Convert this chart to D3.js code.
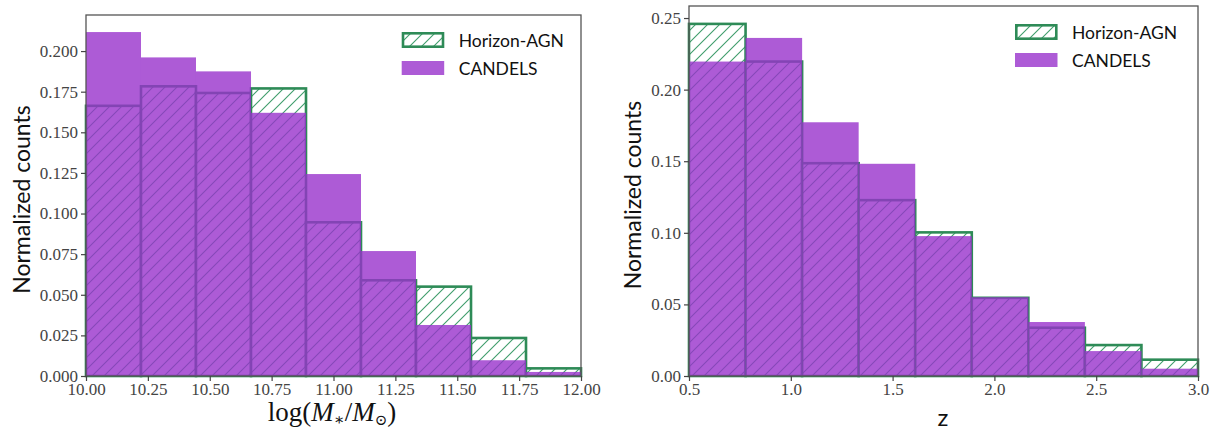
<!DOCTYPE html>
<html><head><meta charset="utf-8">
<script src="https://cdn.jsdelivr.net/npm/d3@7"></script>
<style>
html,body{margin:0;padding:0;background:#fff;}
svg{display:block;}
.tick text{font-family:"Liberation Serif","DejaVu Serif",serif;fill:#444;}
</style></head>
<body>
<svg id="c" width="1222" height="432"></svg>
<script>
// ---- data ----
const massEdges = [10.0, 10.2222, 10.4444, 10.6667, 10.8889, 11.1111, 11.3333, 11.5556, 11.7778, 12.0];
const massHorizon = [0.1663, 0.1783, 0.1742, 0.1770, 0.0946, 0.0589, 0.0550, 0.0234, 0.0047];
const massCandels = [0.2117, 0.1961, 0.1875, 0.1620, 0.1243, 0.0769, 0.0314, 0.0097, 0.0025];
const massXTicks = [10.00, 10.25, 10.50, 10.75, 11.00, 11.25, 11.50, 11.75, 12.00];
const massYTicks = [0.000, 0.025, 0.050, 0.075, 0.100, 0.125, 0.150, 0.175, 0.200];

const zEdges = [0.5, 0.7778, 1.0556, 1.3333, 1.6111, 1.8889, 2.1667, 2.4444, 2.7222, 3.0];
const zHorizon = [0.2459, 0.2196, 0.1486, 0.1228, 0.1003, 0.0546, 0.0337, 0.0216, 0.0114];
const zCandels = [0.2196, 0.2361, 0.1772, 0.1482, 0.0977, 0.0550, 0.0377, 0.0174, 0.0051];
const zXTicks = [0.5, 1.0, 1.5, 2.0, 2.5, 3.0];
const zYTicks = [0.00, 0.05, 0.10, 0.15, 0.20, 0.25];

const seriesNames = ["Horizon-AGN", "CANDELS"];

const GREEN = "#2e8b57", PURPLE = "#9932cc", HATCH = "#3f9e6c";
const svg = d3.select("#c");

const defs = svg.append("defs");
const pat = defs.append("pattern").attr("id","hatch").attr("patternUnits","userSpaceOnUse")
  .attr("width",12).attr("height",12);
pat.append("rect").attr("width",12).attr("height",12).attr("fill","#fff");
pat.append("path").attr("d","M-1,13 L13,-1 M-6,6 L6,-6 M6,18 L18,6")
  .attr("stroke",HATCH).attr("stroke-width",1.1).attr("fill","none");

function panel(o){
  const g = svg.append("g");
  const x = d3.scaleLinear().domain(o.xDomain).range([o.left, o.right]);
  const y = d3.scaleLinear().domain(o.yDomain).range([o.bottom, o.top]);
  const bins = o.edges.slice(0,-1).map((e,i)=>({x0:e,x1:o.edges[i+1],h:o.hor[i],c:o.can[i]}));
  // Horizon-AGN hatched bars
  g.append("g").selectAll("rect").data(bins).join("rect")
    .attr("x",d=>x(d.x0)).attr("width",d=>x(d.x1)-x(d.x0))
    .attr("y",d=>y(d.h)).attr("height",d=>y(0)-y(d.h))
    .attr("fill","url(#hatch)").attr("stroke",GREEN).attr("stroke-width",2.6);
  // CANDELS bars
  g.append("g").selectAll("rect").data(bins).join("rect")
    .attr("x",d=>x(d.x0)).attr("width",d=>x(d.x1)-x(d.x0))
    .attr("y",d=>y(d.c)).attr("height",d=>y(0)-y(d.c))
    .attr("fill",PURPLE).attr("fill-opacity",0.8);
  // frame
  g.append("rect").attr("x",o.left).attr("y",o.top).attr("width",o.right-o.left).attr("height",o.bottom-o.top)
    .attr("fill","none").attr("stroke","#555").attr("stroke-width",1.3);
  // axes
  const xa = g.append("g").attr("transform",`translate(0,${o.bottom})`)
    .call(d3.axisBottom(x).tickValues(o.xTicks).tickFormat(d=>d.toFixed(o.xDec)).tickSize(5).tickPadding(2));
  const ya = g.append("g").attr("transform",`translate(${o.left},0)`)
    .call(d3.axisLeft(y).tickValues(o.yTicks).tickFormat(d=>d.toFixed(o.yDec)).tickSize(5).tickPadding(3));
  [xa,ya].forEach(a=>{a.select(".domain").remove(); a.selectAll(".tick line").attr("stroke","#444").attr("stroke-width",1.2);
    a.selectAll(".tick text").attr("font-size",17).attr("fill","#555");});
  // y label
  g.append("text").attr("transform",`translate(${o.ylabX},${(o.top+o.bottom)/2+4}) rotate(-90)`)
    .attr("text-anchor","middle").attr("dominant-baseline","central")
    .attr("font-family","Lato, 'Open Sans', sans-serif").attr("font-size",23).attr("fill","#111")
    .text("Normalized counts");
  // legend
  const lg = g.append("g");
  seriesNames.forEach((n,i)=>{
    const yy = o.legY + i*28;
    if(i===0){
      lg.append("rect").attr("x",o.legX+1.3).attr("y",yy-6.7).attr("width",40).attr("height",13.4)
        .attr("fill","url(#hatch)").attr("stroke",GREEN).attr("stroke-width",2.6);
    } else {
      lg.append("rect").attr("x",o.legX).attr("y",yy-7).attr("width",42.5).attr("height",14)
        .attr("fill",PURPLE).attr("fill-opacity",0.8);
    }
    lg.append("text").attr("x",o.legX+57).attr("y",yy).attr("dominant-baseline","central")
      .attr("font-family","Lato, 'Open Sans', sans-serif").attr("font-size",17.5).attr("fill","#111").text(n);
  });
  return {g,x,y};
}

const p1 = panel({xDomain:[10,12], yDomain:[0,0.2222], left:86, right:581, top:15, bottom:376,
  edges:massEdges, hor:massHorizon, can:massCandels, xTicks:massXTicks, yTicks:massYTicks, xDec:2, yDec:3,
  ylabX:21, legX:401.7, legY:40});
const p2 = panel({xDomain:[0.5,3.0], yDomain:[0,0.2584], left:689, right:1198, top:6, bottom:376,
  edges:zEdges, hor:zHorizon, can:zCandels, xTicks:zXTicks, yTicks:zYTicks, xDec:1, yDec:2,
  ylabX:632, legX:1015, legY:32});

// x labels
const xl = svg.append("text").attr("x",332).attr("y",421).attr("text-anchor","middle")
  .attr("font-family","'Liberation Serif','DejaVu Serif',serif").attr("font-size",27).attr("fill","#111");
xl.append("tspan").text("log(");
xl.append("tspan").attr("font-style","italic").text("M");
xl.append("tspan").attr("font-size",16).attr("dy",4).text("∗");
xl.append("tspan").attr("dy",-4).text("/");
xl.append("tspan").attr("font-style","italic").text("M");
xl.append("tspan").attr("font-size",15).attr("dy",4).text("⊙");
xl.append("tspan").attr("dy",-4).text(")");

svg.append("text").attr("x",943).attr("y",426).attr("text-anchor","middle")
  .attr("font-family","Lato, 'Open Sans', sans-serif").attr("font-size",24).attr("fill","#111").text("z");
</script>
</body></html>
